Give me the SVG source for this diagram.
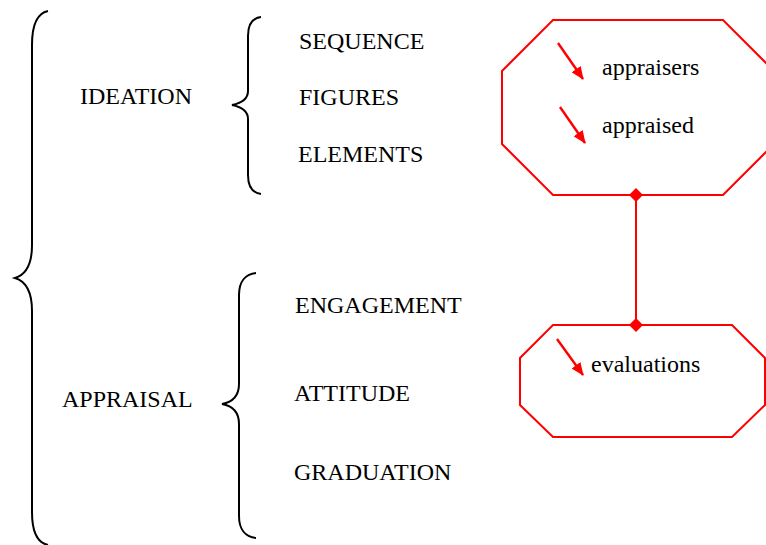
<svg xmlns="http://www.w3.org/2000/svg" width="766" height="545" viewBox="0 0 766 545">
  <style>
    .brace { fill: none; stroke: #000; stroke-width: 2; stroke-linejoin: miter; }
    .label { font-family: "Liberation Serif", "Times New Roman", serif; font-size: 24px; fill: #000; }
    .oct { fill: #fff; stroke: #ff0000; stroke-width: 2; }
    .arrow { stroke: #ff0000; stroke-width: 2.4; fill: none; }
    .link { stroke: #ff0000; stroke-width: 2; fill: none; }
    .dot { fill: #ff0000; }
  </style>
  <defs>
    <marker id="head" viewBox="0 0 13 11" refX="12" refY="5.5" markerWidth="13" markerHeight="11" markerUnits="userSpaceOnUse" orient="auto">
      <path d="M0,0 L13,5.5 L0,11 Z" fill="#ff0000"/>
    </marker>
  </defs>

  <!-- outer brace -->
  <g id="brace-main">
    <path class="brace" d="M48,11 C38,13 32,24 32,45 L32,245 C32,266 25,275 15,278 C25,281 32,290 32,311 L32,512 C32,533 38,543 48,545"/>
  </g>

  <!-- ideation branch -->
  <g id="ideation">
    <text class="label" x="80" y="104">IDEATION</text>
  </g>
  <g id="brace-ideation">
    <path class="brace" d="M261,17 C253,18 248,24 248,36 L248,91 C248,99 242,103 232,105 C242,107 248,111 248,119 L248,175 C248,187 253,193 261,194"/>
  </g>
  <g id="sequence"><text class="label" x="299" y="49">SEQUENCE</text></g>
  <g id="figures"><text class="label" x="299" y="105">FIGURES</text></g>
  <g id="elements"><text class="label" x="298" y="162">ELEMENTS</text></g>

  <!-- appraisal branch -->
  <g id="appraisal">
    <text class="label" x="62" y="407">APPRAISAL</text>
  </g>
  <g id="brace-appraisal">
    <path class="brace" d="M256,273 C246,274 239,281 239,295 L239,384 C239,396 233,402 222,404 C233,406 239,412 239,424 L239,516 C239,530 246,537 256,538"/>
  </g>
  <g id="engagement"><text class="label" x="295" y="313">ENGAGEMENT</text></g>
  <g id="attitude"><text class="label" x="294" y="401">ATTITUDE</text></g>
  <g id="graduation"><text class="label" x="294" y="480">GRADUATION</text></g>

  <!-- connectors -->
  <g id="connectors">
    <line class="link" x1="636" y1="195" x2="636" y2="325"/>
  </g>

  <!-- participants octagon -->
  <g id="participants">
    <polygon class="oct" points="553,20 723,20 774,71 774,144 723,195 553,195 502,144 502,71"/>
    <line class="arrow" x1="558" y1="43" x2="583" y2="79" marker-end="url(#head)"/>
    <line class="arrow" x1="560" y1="107" x2="585" y2="143" marker-end="url(#head)"/>
    <text class="label" x="602" y="75">appraisers</text>
    <text class="label" x="602" y="133">appraised</text>
  </g>

  <!-- evaluations octagon -->
  <g id="evaluations">
    <polygon class="oct" points="553,325 732,325 765,358 765,405 732,437 553,437 520,405 520,358"/>
    <line class="arrow" x1="557" y1="339" x2="583" y2="375" marker-end="url(#head)"/>
    <text class="label" x="591" y="372">evaluations</text>
  </g>

  <!-- diamond ends of the link, drawn over the outlines -->
  <g id="connector-ends">
    <path class="dot" d="M636,188 L643,195 L636,202 L629,195 Z"/>
    <path class="dot" d="M636,318 L643,325 L636,332 L629,325 Z"/>
  </g>
</svg>
